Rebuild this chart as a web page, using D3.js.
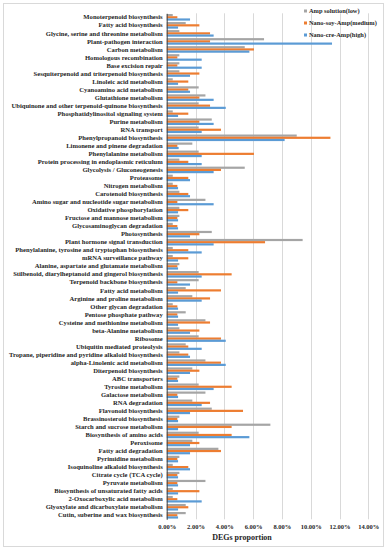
<!DOCTYPE html>
<html>
<head>
<meta charset="UTF-8">
<script src="https://cdn.jsdelivr.net/npm/d3@7"></script>
<style>
  body { margin: 0; background: #fff; }
  text { font-family: "Liberation Serif", "Times New Roman", serif; font-weight: bold; fill: #262626; }
</style>
</head>
<body>
<svg id="chart" width="387" height="550"></svg>
<script>
  var pathways = [
    "Monoterpenoid biosynthesis", "Fatty acid biosynthesis", "Glycine, serine and threonine metabolism",
    "Plant-pathogen interaction", "Carbon metabolism", "Homologous recombination", "Base excision repair",
    "Sesquiterpenoid and triterpenoid biosynthesis", "Linoleic acid metabolism", "Cyanoamino acid metabolism",
    "Glutathione metabolism", "Ubiquinone and other terpenoid-quinone biosynthesis",
    "Phosphatidylinositol signaling system", "Purine metabolism", "RNA transport",
    "Phenylpropanoid biosynthesis", "Limonene and pinene degradation", "Phenylalanine metabolism",
    "Protein processing in endoplasmic reticulum", "Glycolysis / Gluconeogenesis", "Proteasome",
    "Nitrogen metabolism", "Carotenoid biosynthesis", "Amino sugar and nucleotide sugar metabolism",
    "Oxidative phosphorylation", "Fructose and mannose metabolism", "Glycosaminoglycan degradation",
    "Photosynthesis", "Plant hormone signal transduction",
    "Phenylalanine, tyrosine and tryptophan biosynthesis", "mRNA surveillance pathway",
    "Alanine, aspartate and glutamate metabolism", "Stilbenoid, diarylheptanoid and gingerol biosynthesis",
    "Terpenoid backbone biosynthesis", "Fatty acid metabolism", "Arginine and proline metabolism",
    "Other glycan degradation", "Pentose phosphate pathway", "Cysteine and methionine metabolism",
    "beta-Alanine metabolism", "Ribosome", "Ubiquitin mediated proteolysis",
    "Tropane, piperidine and pyridine alkaloid biosynthesis", "alpha-Linolenic acid metabolism",
    "Diterpenoid biosynthesis", "ABC transporters", "Tyrosine metabolism", "Galactose metabolism",
    "RNA degradation", "Flavonoid biosynthesis", "Brassinosteroid biosynthesis",
    "Starch and sucrose metabolism", "Biosynthesis of amino acids", "Peroxisome",
    "Fatty acid degradation", "Pyrimidine metabolism", "Isoquinoline alkaloid biosynthesis",
    "Citrate cycle (TCA cycle)", "Pyruvate metabolism", "Biosynthesis of unsaturated fatty acids",
    "2-Oxocarboxylic acid metabolism", "Glyoxylate and dicarboxylate metabolism",
    "Cutin, suberine and wax biosynthesis"
  ];

  var seriesNames = ["Amp solution(low)", "Nano-soy-Amp(medium)", "Nano-cre-Amp(high)"];
  var seriesColors = ["#a5a5a5", "#ed7d31", "#5b9bd5"];

  // values in %
  var ampLow = [
    0.42, 1.32, 0.88, 6.76, 5.42, 0.88, 0.88, 0.88, 0.42, 2.22,
    2.69, 2.22, 0.42, 3.13, 2.22, 9.03, 1.78, 2.22, 0.88, 5.42, 0.42,
    0.42, 0.88, 2.69, 0.88, 0.88, 0.42, 3.13, 9.44, 0.42, 0.42, 0.88,
    2.22, 2.22, 1.32, 1.78, 0.42, 1.32, 2.69, 0.88, 2.22, 1.32, 0.88, 2.69,
    1.78, 0.88, 2.22, 2.69, 1.78, 3.13, 0.88, 7.20, 2.22, 1.78, 3.59,
    0.88, 0.42, 0.88, 2.69, 0.42, 0.42, 1.32, 1.32
  ];
  var soyMedium = [
    0.74, 2.27, 3.01, 3.01, 6.06, 0.74, 0.74, 2.27, 1.50, 1.50,
    2.27, 3.01, 1.50, 2.27, 3.77, 11.37, 0.74, 6.06, 1.50, 3.77, 1.50,
    0.74, 1.50, 0.74, 1.50, 0.74, 0.74, 2.27, 6.83, 1.50, 1.50, 0.74,
    4.51, 0.74, 3.77, 3.01, 0.74, 0.74, 3.01, 2.27, 3.77, 1.50, 1.50, 3.77,
    2.27, 0.74, 4.51, 0.74, 3.01, 5.30, 0.74, 4.51, 4.51, 2.27, 3.77,
    0.74, 1.50, 0.74, 0.74, 2.27, 0.74, 1.50, 0.74
  ];
  var creHigh = [
    1.62, 0.79, 3.26, 11.48, 5.74, 2.43, 2.43, 1.62, 0.79, 1.62,
    3.26, 4.10, 0.79, 3.26, 2.43, 8.19, 0.83, 2.43, 2.43, 3.26, 1.62,
    0.79, 1.62, 3.26, 0.79, 0.79, 0.79, 1.62, 3.26, 2.43, 0.79, 0.79,
    2.43, 1.62, 0.79, 2.43, 0.79, 0.79, 0.79, 1.62, 4.10, 2.43, 1.62, 4.10,
    1.62, 0.79, 3.26, 0.79, 2.43, 1.62, 0.79, 0.79, 5.74, 1.62, 1.62,
    0.79, 1.62, 0.79, 0.79, 0.79, 2.43, 0.79, 0.79
  ];
  var seriesValues = [ampLow, soyMedium, creHigh];

  var xTicks = [0, 2, 4, 6, 8, 10, 12, 14];

  var svg = d3.select("#chart");

  // chart frame
  svg.append("rect")
    .attr("x", 3.5).attr("y", 3.5)
    .attr("width", 380).attr("height", 543)
    .attr("fill", "#fff").attr("stroke", "#d9d9d9").attr("stroke-width", 1);

  var x = d3.scaleLinear().domain([0, 14]).range([166.7, 368.3]);
  var y = d3.scaleBand().domain(pathways).range([13.3, 519.3]).paddingInner(0.18).paddingOuter(0.09);
  var ySub = d3.scaleBand().domain([0, 1, 2]).range([0, y.bandwidth()]);

  // grid lines
  svg.append("g").selectAll("line")
    .data(xTicks.slice(1))
    .join("line")
    .attr("x1", function(d){ return Math.round(x(d)) + 0.5; })
    .attr("x2", function(d){ return Math.round(x(d)) + 0.5; })
    .attr("y1", 13.3).attr("y2", 519.3)
    .attr("stroke", "#d9d9d9").attr("stroke-width", 1);

  // bars
  var groups = svg.append("g").selectAll("g")
    .data(pathways)
    .join("g")
    .attr("transform", function(d){ return "translate(0," + y(d) + ")"; });

  groups.selectAll("rect")
    .data(function(d, i){ return seriesValues.map(function(vals, s){ return {s: s, v: vals[i]}; }); })
    .join("rect")
    .attr("x", x(0))
    .attr("y", function(d){ return ySub(d.s); })
    .attr("width", function(d){ return x(d.v) - x(0); })
    .attr("height", ySub.bandwidth())
    .attr("fill", function(d){ return seriesColors[d.s]; });

  // category axis
  var yAxis = svg.append("g")
    .attr("transform", "translate(" + x(0) + ",0)")
    .call(d3.axisLeft(y).tickSize(0).tickPadding(4));
  yAxis.select(".domain").attr("stroke", "#404040").attr("stroke-width", 1);
  yAxis.selectAll("text")
    .style("font-family", "Liberation Serif, serif")
    .style("font-weight", "bold")
    .style("font-size", "6.6px")
    .attr("fill", "#262626");

  // value axis labels
  var xAxis = svg.append("g")
    .attr("transform", "translate(0,519.3)")
    .call(d3.axisBottom(x).tickValues(xTicks).tickSize(0).tickPadding(5)
      .tickFormat(function(d){ return d.toFixed(2) + "%"; }));
  xAxis.select(".domain").remove();
  xAxis.selectAll("text")
    .style("font-family", "Liberation Serif, serif")
    .style("font-weight", "bold")
    .style("font-size", "6.5px")
    .attr("fill", "#262626");

  svg.append("text")
    .attr("x", 242).attr("y", 540)
    .attr("text-anchor", "middle")
    .style("font-size", "8px")
    .text("DEGs proportion");

  // legend
  var legend = svg.append("g").selectAll("g")
    .data(seriesNames)
    .join("g")
    .attr("transform", function(d, i){ return "translate(304," + (11 + i * 12) + ")"; });
  legend.append("rect")
    .attr("x", 0).attr("y", -1.5)
    .attr("width", 3).attr("height", 3)
    .attr("fill", function(d, i){ return seriesColors[i]; });
  legend.append("text")
    .attr("x", 5).attr("y", 2)
    .style("font-size", "6.4px")
    .text(function(d){ return d; });
</script>
</body>
</html>
